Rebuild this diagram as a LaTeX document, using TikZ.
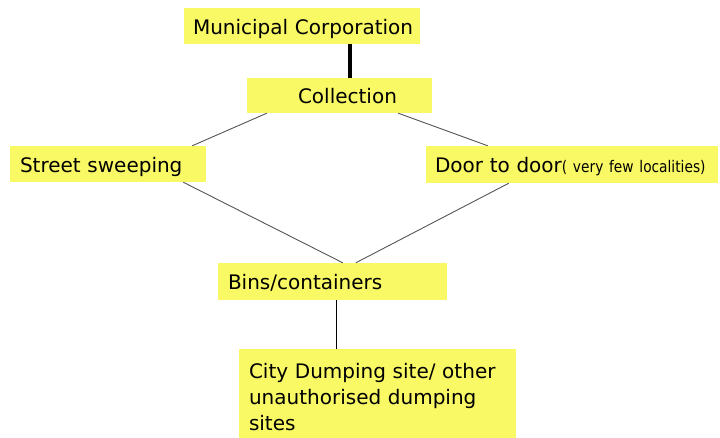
\documentclass[tikz,border=0pt]{standalone}
\usepackage{fontspec}
\setmainfont{DejaVu Sans}
\definecolor{boxyellow}{RGB}{249,249,102}
\definecolor{linegray}{RGB}{85,85,85}
\begin{document}
\begin{tikzpicture}[x=1pt,y=-1pt,
  yfill/.style={fill=boxyellow, inner ysep=0pt, font=\fontsize{20}{26}\selectfont},
  oneline/.style={yfill, text height=17.5pt, text depth=0.5pt, align=left},
  conn/.style={draw=linegray, line width=0.9pt},
  thickconn/.style={draw=black, line width=3.5pt},
  plainconn/.style={draw=black, line width=0.9pt}]
\useasboundingbox (0,0) rectangle (720,438);

\node[oneline, align=center, inner xsep=9pt, text width=218pt, minimum width=236pt, minimum height=36pt] (mc) at (302,26) {\mbox{Municipal Corporation}};
\node[oneline, inner xsep=20pt, text width=145pt, minimum width=185pt, minimum height=35pt] (coll) at (339.5,95.5) {\hspace*{31pt}Collection};
\node[oneline, inner xsep=10pt, text width=176pt, minimum width=196pt, minimum height=36pt] (ss) at (108,164) {Street sweeping};
\node[oneline, inner xsep=9pt, text width=274pt, minimum width=292pt, minimum height=37pt] (dd) at (572,164.5) {\mbox{Door to door\scalebox{0.86}[1]{\fontsize{16}{18}\selectfont( very few localities)}}};
\node[oneline, inner xsep=10pt, text width=209pt, minimum width=229pt, minimum height=37pt] (bins) at (332.5,281.5) {Bins/containers};
\node[yfill, align=left, inner xsep=10pt, text width=257pt, minimum width=277pt, minimum height=89pt] (city) at (377.5,393.5) {\rule{0pt}{22pt}City Dumping site/ other\\unauthorised dumping\\sites};

\draw[thickconn] ([xshift=166pt]mc.south west) -- ([xshift=103pt]coll.north west);
\draw[conn] ([xshift=20pt]coll.south west) -- ([xshift=-14pt]ss.north east);
\draw[conn] ([xshift=-34pt]coll.south east) -- ([xshift=62pt]dd.north west);
\draw[conn] ([xshift=-23pt]ss.south east) -- ([xshift=125pt]bins.north west);
\draw[conn] ([xshift=83pt]dd.south west) -- ([xshift=138pt]bins.north west);
\draw[plainconn] ([xshift=119pt]bins.south west) -- ([xshift=98pt]city.north west);
\end{tikzpicture}
\end{document}
